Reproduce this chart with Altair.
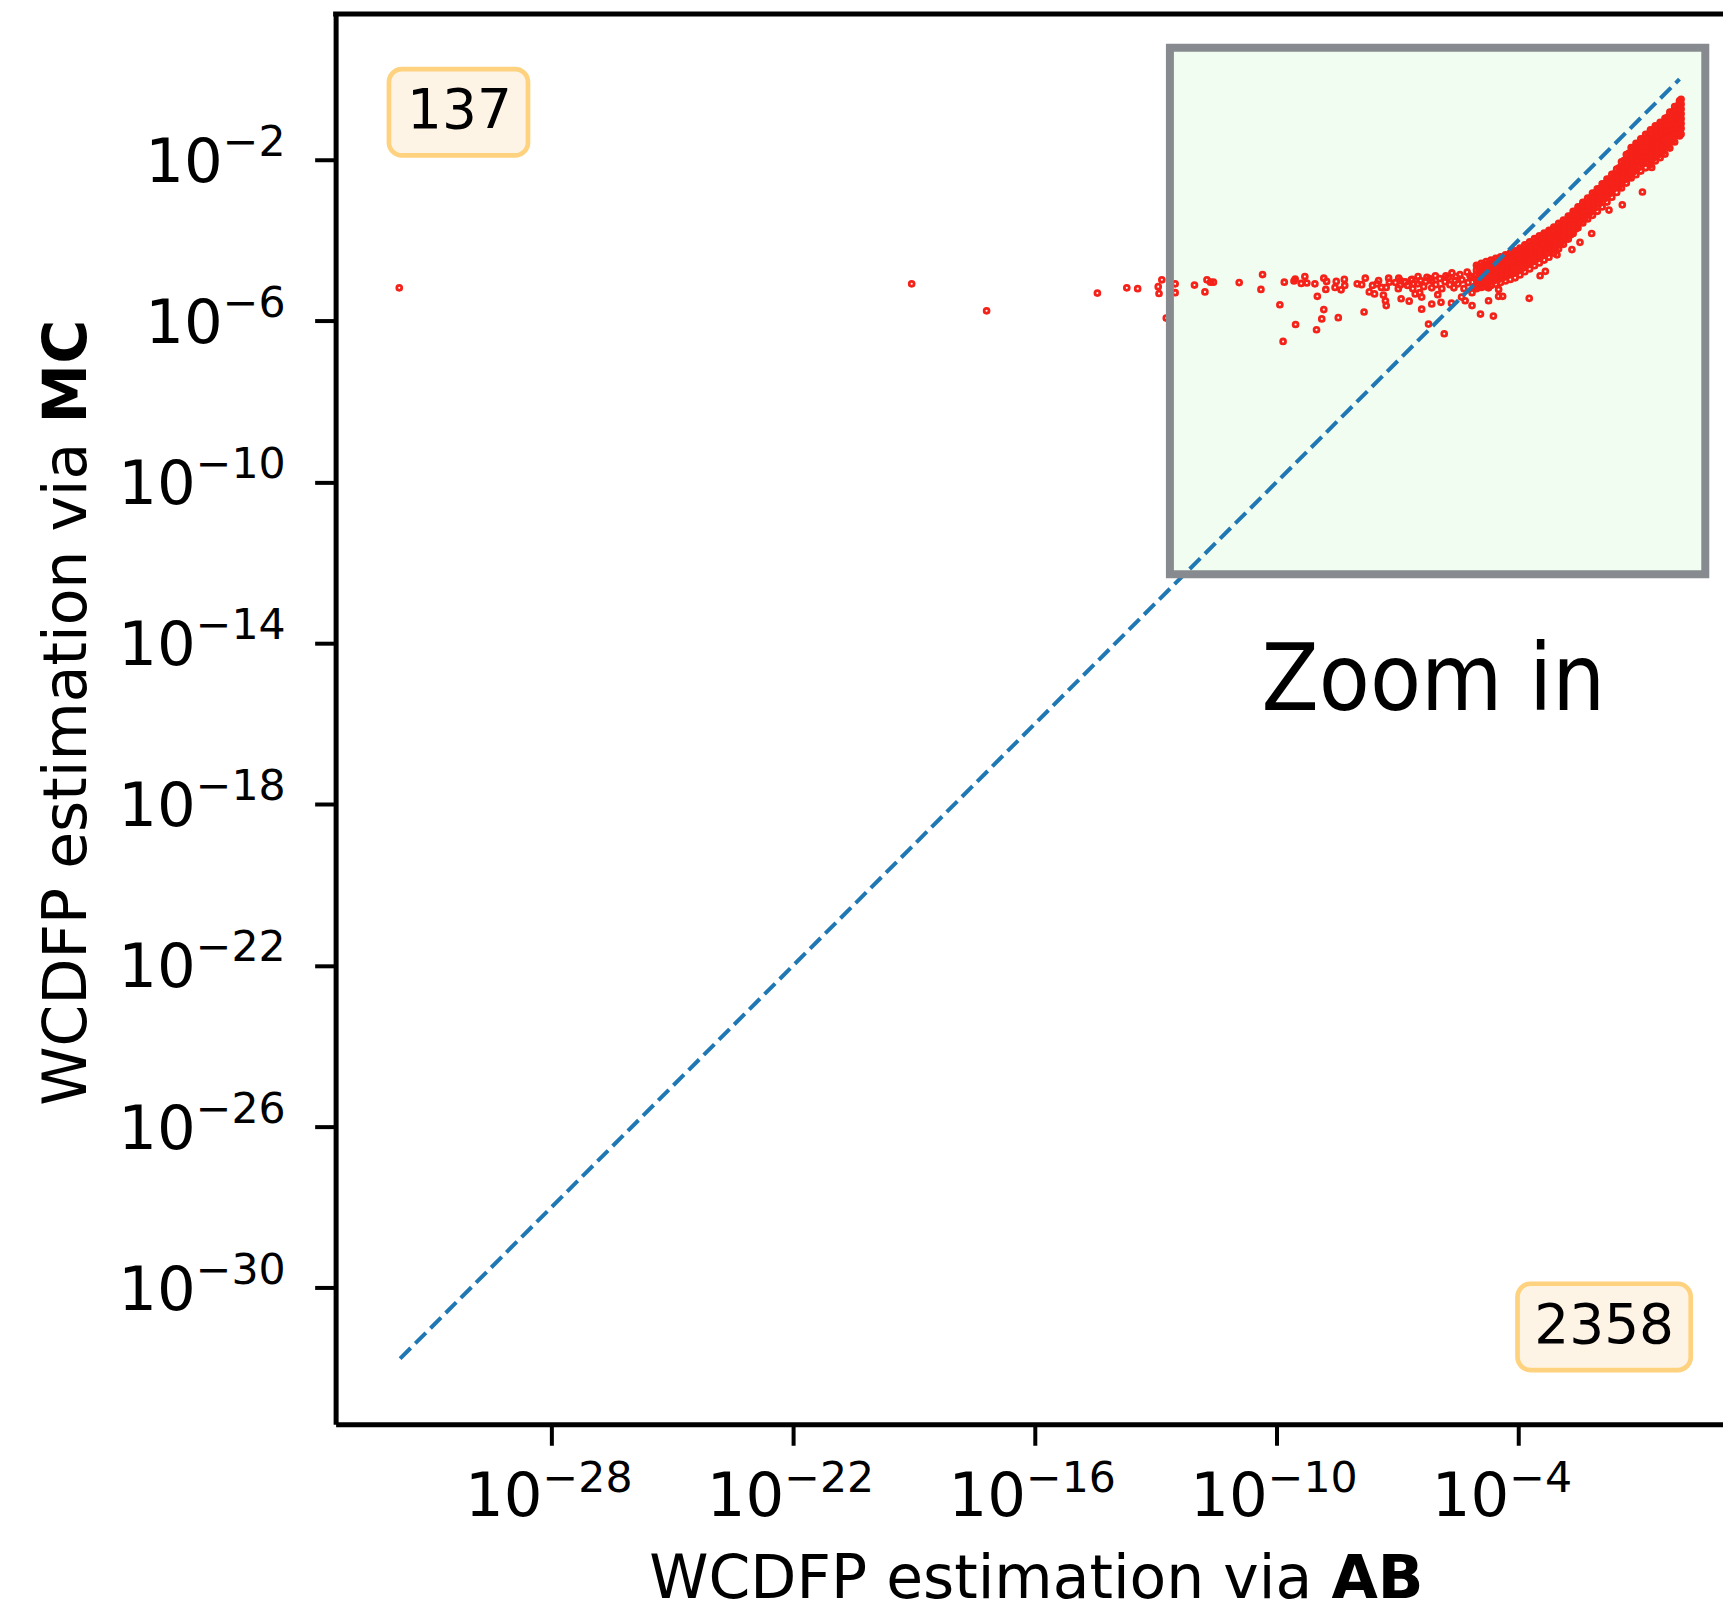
import altair as alt
import pandas as pd

# ---------------- data (log10 exponents) ----------------
# isolated / flat-region points: AB exponent, MC exponent
flat_ab_exp = [
    -31.78, -19.06, -17.20, -14.45, -13.72, -13.45, -12.94, -12.85, -12.92, -12.52,
    -12.52, -12.74, -12.04, -11.78, -11.73, -11.64, -11.57, -10.93, -10.35, -10.39,
    -9.92, -9.81, -9.84, -9.54, -9.57, -9.39, -9.30, -9.25, -9.53, -9.05,
    -8.99, -8.83, -8.88, -9.01, -8.83, -8.76, -8.78, -8.52, -8.55, -8.47,
    -8.40, -8.32, -8.31, -8.00, -7.89, -7.83, -7.80, -7.70, -7.62, -7.57,
    -7.51, -7.47, -7.40, -7.35, -7.30, -7.28, -7.28, -7.22, -7.20, -6.97,
    -6.91, -6.93, -6.82, -6.71, -6.66, -6.60, -6.56, -6.40, -6.40, -6.15,
    -5.92, -6.23, -5.84, -5.66, -5.32, -5.15, -4.94, -4.62, -4.74, -4.49,
    -4.39, -3.73, -3.46, -3.33, -3.04, -2.67, -2.47, -2.18, -1.75, -1.42,
    -0.92, -0.69, -5.41, -6.93, -6.81, -6.64, -6.49, -6.43, -6.27, -6.15,
    -6.06, -6.15, -5.82, -5.65, -5.74, -5.57, -5.45, -5.27, -5.16, -4.99,
    -4.99, -4.83, -7.05, -6.98, -6.75, -6.62, -6.50, -6.35, -6.30, -6.20,
    -6.05, -5.95, -5.90, -5.80, -5.70, -5.60, -5.55, -5.50, -5.40, -5.35,
    -5.25, -5.20, -5.10, -6.45, -6.00, -5.15, -4.49, -4.74,
]
flat_mc_exp = [
    -5.18, -5.08, -5.75, -5.31, -5.18, -5.20, -5.15, -4.98, -5.32, -5.08,
    -5.30, -5.93, -5.11, -5.28, -4.98, -5.04, -5.04, -5.05, -4.85, -5.22,
    -5.60, -5.04, -6.51, -4.96, -5.01, -5.07, -4.90, -5.06, -6.09, -5.08,
    -5.39, -5.72, -5.95, -6.22, -4.94, -5.02, -5.22, -5.02, -5.17, -5.92,
    -5.23, -4.97, -5.12, -5.08, -5.10, -5.78, -4.94, -5.28, -5.12, -5.33,
    -5.08, -5.00, -5.17, -5.36, -5.50, -5.62, -5.17, -4.94, -5.04, -4.94,
    -5.45, -5.11, -5.04, -5.51, -4.98, -5.08, -5.33, -5.41, -5.71, -5.58,
    -5.54, -6.08, -6.32, -5.56, -5.50, -5.62, -5.83, -5.88, -5.50, -5.39,
    -5.39, -5.44, -4.88, -4.77, -4.36, -4.23, -4.05, -3.83, -3.25, -3.12,
    -2.80, -2.19, -5.41, -5.00, -5.03, -4.97, -4.90, -5.00, -4.92, -5.00,
    -4.88, -5.18, -5.03, -4.81, -4.92, -5.00, -4.85, -4.79, -4.92, -4.65,
    -5.00, -4.92, -5.05, -5.20, -5.12, -5.20, -5.08, -5.15, -5.02, -4.95,
    -5.10, -4.95, -5.20, -4.88, -5.10, -5.18, -4.90, -5.08, -4.98, -5.20,
    -5.05, -4.88, -5.15, -5.30, -5.35, -5.30, -5.22, -5.18,
]

# dense band: AB exponent of each column, and MC exponents read in that column
band_ab_exp = [
    -5.04, -4.92, -4.80, -4.68, -4.56, -4.44, -4.32, -4.20, -4.08, -3.96,
    -3.84, -3.72, -3.60, -3.48, -3.36, -3.24, -3.12, -3.00, -2.88, -2.76,
    -2.64, -2.52, -2.40, -2.28, -2.16, -2.04, -1.92, -1.80, -1.68, -1.56,
    -1.44, -1.32, -1.20, -1.08, -0.96, -0.84, -0.72, -0.60, -0.48, -0.36,
    -0.24, -0.12, 0.00, 0.04,
]
band_mc_exp = [
    [-4.62, -4.74, -4.86, -4.98, -5.10, -5.20],
    [-4.57, -4.69, -4.81, -4.93, -5.05, -5.17],
    [-4.53, -4.65, -4.77, -4.89, -5.01, -5.15],
    [-4.49, -4.61, -4.73, -4.85, -4.97, -5.12],
    [-4.45, -4.57, -4.69, -4.81, -4.93, -5.09],
    [-4.41, -4.53, -4.65, -4.77, -4.89, -5.05],
    [-4.36, -4.48, -4.60, -4.72, -4.84, -5.01],
    [-4.31, -4.43, -4.55, -4.67, -4.79, -4.97],
    [-4.26, -4.38, -4.50, -4.62, -4.74, -4.93],
    [-4.19, -4.31, -4.43, -4.55, -4.67, -4.86],
    [-4.11, -4.23, -4.35, -4.47, -4.59, -4.78],
    [-4.04, -4.16, -4.28, -4.40, -4.52, -4.71],
    [-3.96, -4.08, -4.20, -4.32, -4.44, -4.63],
    [-3.89, -4.01, -4.13, -4.25, -4.37, -4.56],
    [-3.82, -3.94, -4.06, -4.18, -4.30, -4.49],
    [-3.75, -3.87, -3.99, -4.11, -4.23, -4.42],
    [-3.67, -3.79, -3.91, -4.03, -4.15, -4.32],
    [-3.58, -3.70, -3.82, -3.94, -4.06, -4.21],
    [-3.50, -3.62, -3.74, -3.86, -3.98, -4.10],
    [-3.40, -3.52, -3.64, -3.76, -3.87, -3.97],
    [-3.28, -3.40, -3.52, -3.64, -3.74, -3.83],
    [-3.17, -3.29, -3.41, -3.53, -3.69],
    [-3.06, -3.18, -3.30, -3.42, -3.57],
    [-2.95, -3.07, -3.19, -3.31, -3.47],
    [-2.83, -2.95, -3.07, -3.19, -3.38],
    [-2.72, -2.84, -2.96, -3.08, -3.28],
    [-2.60, -2.72, -2.84, -2.96, -3.17],
    [-2.48, -2.60, -2.72, -2.84, -3.05],
    [-2.36, -2.48, -2.60, -2.72, -2.93],
    [-2.23, -2.35, -2.47, -2.59, -2.81],
    [-2.05, -2.17, -2.29, -2.41, -2.53, -2.70],
    [-1.87, -1.99, -2.11, -2.23, -2.35, -2.47, -2.58],
    [-1.70, -1.82, -1.94, -2.06, -2.18, -2.30, -2.45],
    [-1.59, -1.71, -1.83, -1.95, -2.07, -2.19, -2.37],
    [-1.48, -1.60, -1.72, -1.84, -1.96, -2.08, -2.28],
    [-1.37, -1.49, -1.61, -1.73, -1.85, -1.97, -2.20],
    [-1.26, -1.38, -1.50, -1.62, -1.74, -1.86, -1.98, -2.12],
    [-1.16, -1.28, -1.40, -1.52, -1.64, -1.76, -1.88, -2.03],
    [-1.07, -1.19, -1.31, -1.43, -1.55, -1.67, -1.79, -1.95],
    [-0.97, -1.09, -1.21, -1.33, -1.45, -1.57, -1.69, -1.86],
    [-0.82, -0.94, -1.06, -1.18, -1.30, -1.42, -1.54, -1.71],
    [-0.68, -0.80, -0.92, -1.04, -1.16, -1.28, -1.40, -1.56],
    [-0.54, -0.66, -0.78, -0.90, -1.02, -1.14, -1.26, -1.41],
    [-0.50, -0.62, -0.74, -0.86, -0.98, -1.10, -1.22, -1.36],
]

# further columns of the dense band, read between the columns above
band2_ab_exp = [
    -4.98, -4.86, -4.74, -4.62, -4.50, -4.38, -4.26, -4.14, -4.02, -3.90,
    -3.78, -3.66, -3.54, -3.42, -3.30, -3.18, -3.06, -2.94, -2.82, -2.70,
    -2.58, -2.46, -2.34, -2.22, -2.10, -1.98, -1.86, -1.74, -1.62, -1.50,
    -1.38, -1.26, -1.14, -1.02, -0.90, -0.78, -0.66, -0.54, -0.42, -0.30,
    -0.18, -0.06,
]
band2_mc_exp = [
    [-4.66, -4.78, -4.90, -5.02, -5.14],
    [-4.61, -4.73, -4.85, -4.97, -5.09],
    [-4.57, -4.69, -4.81, -4.93, -5.05],
    [-4.53, -4.65, -4.77, -4.89, -5.01],
    [-4.49, -4.61, -4.73, -4.85, -4.97],
    [-4.44, -4.56, -4.68, -4.80, -4.92],
    [-4.39, -4.51, -4.63, -4.75, -4.87],
    [-4.34, -4.46, -4.58, -4.70, -4.82],
    [-4.28, -4.40, -4.52, -4.64, -4.76],
    [-4.21, -4.33, -4.45, -4.57, -4.69],
    [-4.13, -4.25, -4.37, -4.49, -4.61],
    [-4.06, -4.18, -4.30, -4.42, -4.54],
    [-3.98, -4.10, -4.22, -4.34, -4.46],
    [-3.91, -4.03, -4.15, -4.27, -4.39],
    [-3.84, -3.96, -4.08, -4.20, -4.32],
    [-3.77, -3.89, -4.01, -4.13, -4.25],
    [-3.68, -3.80, -3.92, -4.04, -4.16],
    [-3.60, -3.72, -3.84, -3.96, -4.06],
    [-3.51, -3.63, -3.75, -3.87, -3.97],
    [-3.40, -3.52, -3.64, -3.76, -3.86],
    [-3.28, -3.40, -3.52, -3.64, -3.72],
    [-3.17, -3.29, -3.41, -3.53],
    [-3.06, -3.18, -3.30, -3.42],
    [-2.95, -3.07, -3.19, -3.31],
    [-2.83, -2.95, -3.07, -3.19],
    [-2.72, -2.84, -2.96, -3.08],
    [-2.60, -2.72, -2.84, -2.96],
    [-2.48, -2.60, -2.72, -2.84],
    [-2.35, -2.47, -2.59, -2.71],
    [-2.20, -2.32, -2.44, -2.56, -2.66],
    [-2.02, -2.14, -2.26, -2.38, -2.50],
    [-1.84, -1.96, -2.08, -2.20, -2.32, -2.42],
    [-1.70, -1.82, -1.94, -2.06, -2.18, -2.30],
    [-1.59, -1.71, -1.83, -1.95, -2.07, -2.19],
    [-1.48, -1.60, -1.72, -1.84, -1.96, -2.08],
    [-1.37, -1.49, -1.61, -1.73, -1.85, -1.97, -2.07],
    [-1.27, -1.39, -1.51, -1.63, -1.75, -1.87, -1.97],
    [-1.17, -1.29, -1.41, -1.53, -1.65, -1.77, -1.89],
    [-1.08, -1.20, -1.32, -1.44, -1.56, -1.68, -1.80],
    [-0.95, -1.07, -1.19, -1.31, -1.43, -1.55, -1.67],
    [-0.81, -0.93, -1.05, -1.17, -1.29, -1.41, -1.53],
    [-0.67, -0.79, -0.91, -1.03, -1.15, -1.27, -1.39],
]

# y = x reference line
diag_values = [1.74e-32, 1.0]
# zoomed-in region
zoom_ab = [2.24e-13, 4.37]
zoom_mc = [5.13e-13, 6.03]
# counts shown in the corners
count_labels = ["137", "2358"]
zoom_label = ["Zoom in"]

x_tick_values = [1e-28, 1e-22, 1e-16, 1e-10, 1e-4]
x_tick_exps = ["\u221228", "\u221222", "\u221216", "\u221210", "\u22124"]
y_tick_values = [1e-30, 1e-26, 1e-22, 1e-18, 1e-14, 1e-10, 1e-6, 1e-2]
y_tick_exps = ["\u221230", "\u221226", "\u221222", "\u221218", "\u221214", "\u221210", "\u22126", "\u22122"]

x_title = ["WCDFP estimation via", "AB"]
y_title = ["WCDFP estimation via", "MC"]

# ---------------- build frames ----------------
ab_vals = ([10 ** v for v in flat_ab_exp]
           + [10 ** x for x, ys in zip(band_ab_exp, band_mc_exp) for _ in ys]
           + [10 ** x for x, ys in zip(band2_ab_exp, band2_mc_exp) for _ in ys])
mc_vals = ([10 ** v for v in flat_mc_exp]
           + [10 ** y for ys in band_mc_exp for y in ys]
           + [10 ** y for ys in band2_mc_exp for y in ys])
points_df = pd.DataFrame({"ab": ab_vals, "mc": mc_vals})
diag_df = pd.DataFrame({"ab": diag_values, "mc": diag_values})
zoom_df = pd.DataFrame({"x0": [zoom_ab[0]], "x1": [zoom_ab[1]], "y0": [zoom_mc[0]], "y1": [zoom_mc[1]]})
xt_df = pd.DataFrame({"v": x_tick_values, "e": x_tick_exps})
yt_df = pd.DataFrame({"v": y_tick_values, "e": y_tick_exps, "n": [len(e) for e in y_tick_exps]})

W, H = 1389, 1412
RED = "#f5221a"
BLUE = "#1f77b4"
GRAY = "#878a8f"
GREEN = "#f2fdf2"
FONT = "DejaVu Sans"

x_scale = alt.Scale(type="log", domain=[10 ** -33.36, 10 ** 1.08], nice=False)
y_scale = alt.Scale(type="log", domain=[10 ** -33.39, 10 ** 1.62], nice=False)

axis_common = dict(labels=False, title=None, grid=False, domainColor="black", domainWidth=5,
                   tickColor="black", tickWidth=4, tickSize=21)
x_axis = alt.Axis(values=x_tick_values, **axis_common)
y_axis = alt.Axis(values=y_tick_values, **axis_common)


def X(field):
    return alt.X(field, scale=x_scale, axis=x_axis)


def Y(field):
    return alt.Y(field, scale=y_scale, axis=y_axis)


box_fill = alt.Chart(zoom_df).mark_rect(fill=GREEN).encode(
    x=X("x0:Q"), x2="x1:Q", y=Y("y0:Q"), y2="y1:Q",
)

points = alt.Chart(points_df).mark_point(
    shape="circle", filled=False, color=RED, size=24, strokeWidth=2.8, opacity=1
).encode(x=X("ab:Q"), y=Y("mc:Q"))

diag = alt.Chart(diag_df).mark_line(color=BLUE, strokeWidth=4, strokeDash=[15, 6.5]).encode(
    x=X("ab:Q"), y=Y("mc:Q"),
)

box_border = alt.Chart(zoom_df).mark_rect(fillOpacity=0, stroke=GRAY, strokeWidth=8).encode(
    x=X("x0:Q"), x2="x1:Q", y=Y("y0:Q"), y2="y1:Q",
)

one = pd.DataFrame({"k": [0]})
top_spine = alt.Chart(one).mark_rule(color="black", strokeWidth=5).encode(
    x=alt.value(-2.5), x2=alt.value(W), y=alt.value(0)
)


def count_box(label, x0, x1, y0, y1, tx, ty):
    d = pd.DataFrame({"t": [label]})
    r = alt.Chart(d).mark_rect(fill="#fef4e6", stroke="#ffd27f", strokeWidth=4.7, cornerRadius=13).encode(
        x=alt.value(x0), x2=alt.value(x1), y=alt.value(y0), y2=alt.value(y1)
    )
    t = alt.Chart(d).mark_text(font=FONT, fontSize=55, color="black", align="center", baseline="alphabetic").encode(
        text="t:N", x=alt.value(tx), y=alt.value(ty)
    )
    return [r, t]


box137 = count_box(count_labels[0], 53.4, 192.6, 55.3, 141.7, 124, 114)
box2358 = count_box(count_labels[1], 1183.3, 1356.7, 1271.3, 1357.7, 1270, 1331)

zoom_text = alt.Chart(pd.DataFrame({"t": zoom_label})).mark_text(
    font="DejaVu Sans Condensed", fontSize=93, color="black",
    align="center", baseline="alphabetic"
).encode(text="t:N", x=alt.value(1099), y=alt.value(697))

# tick labels: "10" plus raised exponent
xl_base = alt.Chart(xt_df).mark_text(font=FONT, fontSize=61, color="black", align="right",
                                      baseline="alphabetic", dx=-9).encode(
    x=X("v:Q"), y=alt.value(1504), text=alt.value("10"))
xl_exp = alt.Chart(xt_df).mark_text(font=FONT, fontSize=42.7, color="black", align="left",
                                     baseline="alphabetic", dx=-9).encode(
    x=X("v:Q"), y=alt.value(1480), text="e:N")

yl_exp = alt.Chart(yt_df).mark_text(font=FONT, fontSize=42.7, color="black", align="right",
                                     baseline="alphabetic", dy=-4).encode(
    y=Y("v:Q"), x=alt.value(-50), text="e:N")
yl_base_short = alt.Chart(yt_df).transform_filter("datum.n == 2").mark_text(
    font=FONT, fontSize=61, color="black", align="right", baseline="alphabetic", dy=22).encode(
    y=Y("v:Q"), x=alt.value(-50 - 63), text=alt.value("10"))
yl_base_long = alt.Chart(yt_df).transform_filter("datum.n == 3").mark_text(
    font=FONT, fontSize=61, color="black", align="right", baseline="alphabetic", dy=22).encode(
    y=Y("v:Q"), x=alt.value(-50 - 90), text=alt.value("10"))

# axis titles with a bold tail
xt_norm = alt.Chart(pd.DataFrame({"t": [x_title[0]]})).mark_text(
    font=FONT, fontSize=60, color="black", align="left", baseline="alphabetic").encode(
    text="t:N", x=alt.value(314), y=alt.value(1586))
xt_bold = alt.Chart(pd.DataFrame({"t": [x_title[1]]})).mark_text(
    font=FONT, fontSize=60, fontWeight="bold", color="black", align="left", baseline="alphabetic").encode(
    text="t:N", x=alt.value(997), y=alt.value(1586))
yt_norm = alt.Chart(pd.DataFrame({"t": [y_title[0]]})).mark_text(
    font=FONT, fontSize=60, color="black", align="left", baseline="alphabetic", angle=270).encode(
    text="t:N", x=alt.value(-250), y=alt.value(1093))
yt_bold = alt.Chart(pd.DataFrame({"t": [y_title[1]]})).mark_text(
    font=FONT, fontSize=60, fontWeight="bold", color="black", align="left", baseline="alphabetic", angle=270).encode(
    text="t:N", x=alt.value(-250), y=alt.value(410))

chart = alt.layer(
    box_fill, points, diag, box_border, top_spine, *box137, *box2358, zoom_text,
    xl_base, xl_exp, yl_exp, yl_base_short, yl_base_long,
    xt_norm, xt_bold, yt_norm, yt_bold,
).properties(
    width=W, height=H,
    padding={"left": 328, "top": 5, "right": 0, "bottom": 177},
    autosize=alt.AutoSizeParams(type="none"),
    background="white",
).configure_view(stroke=None)

chart.save("out.html", embed_options={"renderer": "svg", "actions": False})
